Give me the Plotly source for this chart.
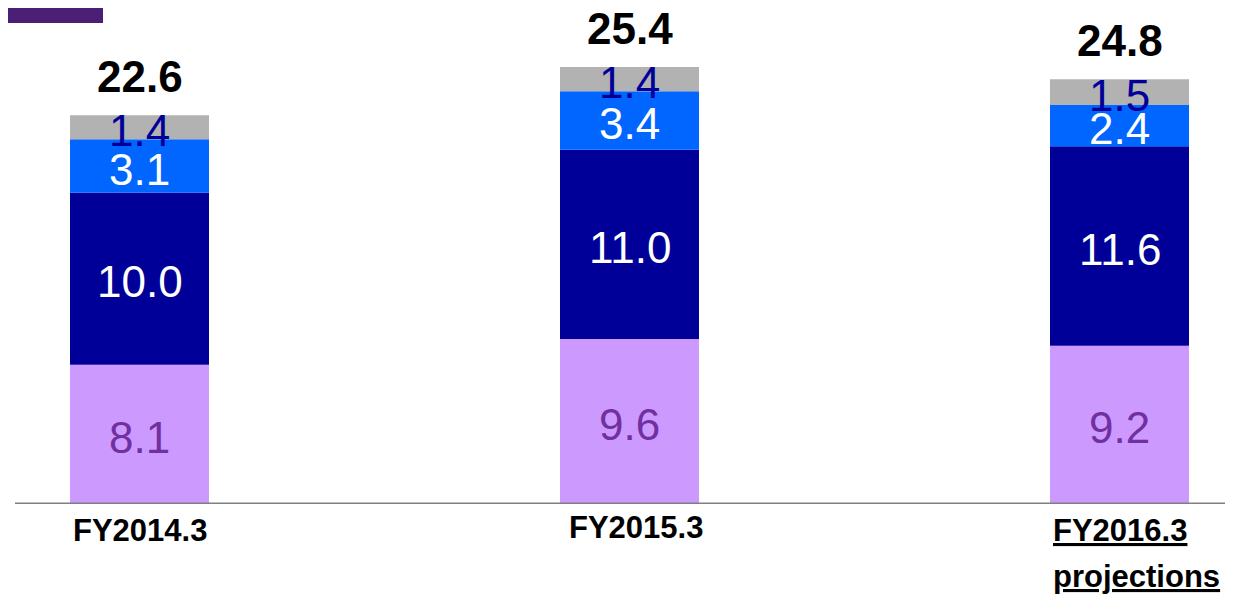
import plotly.graph_objects as go

categories = ["FY2014.3", "FY2015.3", "FY2016.3"]
seg1 = [8.1, 9.6, 9.2]      # lilac (bottom)
seg2 = [10.0, 11.0, 11.6]   # navy
seg3 = [3.1, 3.4, 2.4]      # blue
seg4 = [1.4, 1.4, 1.5]      # gray (top)
totals = [22.6, 25.4, 24.8]
sub_label = "projections"

series = [
    (seg1, "#CC99FF", "#7030A0"),
    (seg2, "#000099", "#FFFFFF"),
    (seg3, "#0066FF", "#FFFFFF"),
    (seg4, "#B2B2B2", "#000099"),
]

# page has an 8px body margin; compensate so the figure lands where the reference is
OFF = 8
W, H = 1233 - OFF, 595 - OFF
base_px = 504 - OFF
px_per_unit = 17.2
center0, spacing = 139.5 - OFF, 490.0

FONT = "Arial, Liberation Sans"

fig = go.Figure()
annotations = []
cum = [0.0] * len(categories)
xs = list(range(len(categories)))
for vals, color, tcolor in series:
    fig.add_trace(go.Bar(
        x=xs, y=vals, base=cum[:], marker=dict(color=color, line=dict(width=0)),
        width=139 / spacing, hoverinfo="skip", showlegend=False,
    ))
    for i, v in enumerate(vals):
        annotations.append(dict(
            x=xs[i], y=cum[i] + v / 2, xref="x", yref="y", text=f"{v:.1f}",
            showarrow=False, yshift=-3,
            font=dict(family=FONT, size=44, color=tcolor),
        ))
    cum = [c + v for c, v in zip(cum, vals)]

for i, t in enumerate(totals):
    annotations.append(dict(
        x=xs[i], y=cum[i], xref="x", yref="y", text=f"<b>{t:.1f}</b>",
        showarrow=False, yshift=39,
        font=dict(family=FONT, size=44, color="#000000"),
    ))

for i, c in enumerate(categories):
    last = i == len(categories) - 1
    txt = f"<b><u>{c}</u></b>" if last else f"<b>{c}</b>"
    annotations.append(dict(
        x=xs[i], y=0, xref="x", yref="y", text=txt, showarrow=False,
        yshift=-26 if i != 1 else -23, xshift=6 if i == 1 else 0,
        font=dict(family=FONT, size=31, color="#000000"),
    ))
annotations.append(dict(
    x=xs[-1], y=0, xref="x", yref="y", text=f"<b><u>{sub_label}</u></b>",
    showarrow=False, yshift=-72, xshift=17,
    font=dict(family=FONT, size=31, color="#000000"),
))

fig.update_layout(
    width=W, height=H,
    margin=dict(l=0, r=0, t=0, b=H - base_px),
    paper_bgcolor="white", plot_bgcolor="white",
    barmode="overlay",
    xaxis=dict(range=[-center0 / spacing, (W - center0) / spacing],
               visible=False, fixedrange=True),
    yaxis=dict(range=[0, base_px / px_per_unit], visible=False, fixedrange=True),
    annotations=annotations,
    shapes=[
        dict(type="line", xref="paper", yref="y", x0=(15 - OFF) / W, x1=1, y0=0, y1=0,
             line=dict(color="#808080", width=3), layer="above"),
        dict(type="rect", xref="paper", yref="paper", x0=0, x1=(103 - OFF) / W,
             y0=(base_px - (23 - OFF)) / base_px, y1=1.2, fillcolor="#4B1F74",
             line=dict(width=0), layer="above"),
    ],
)

fig.write_html("out.html", config={"displayModeBar": False})
